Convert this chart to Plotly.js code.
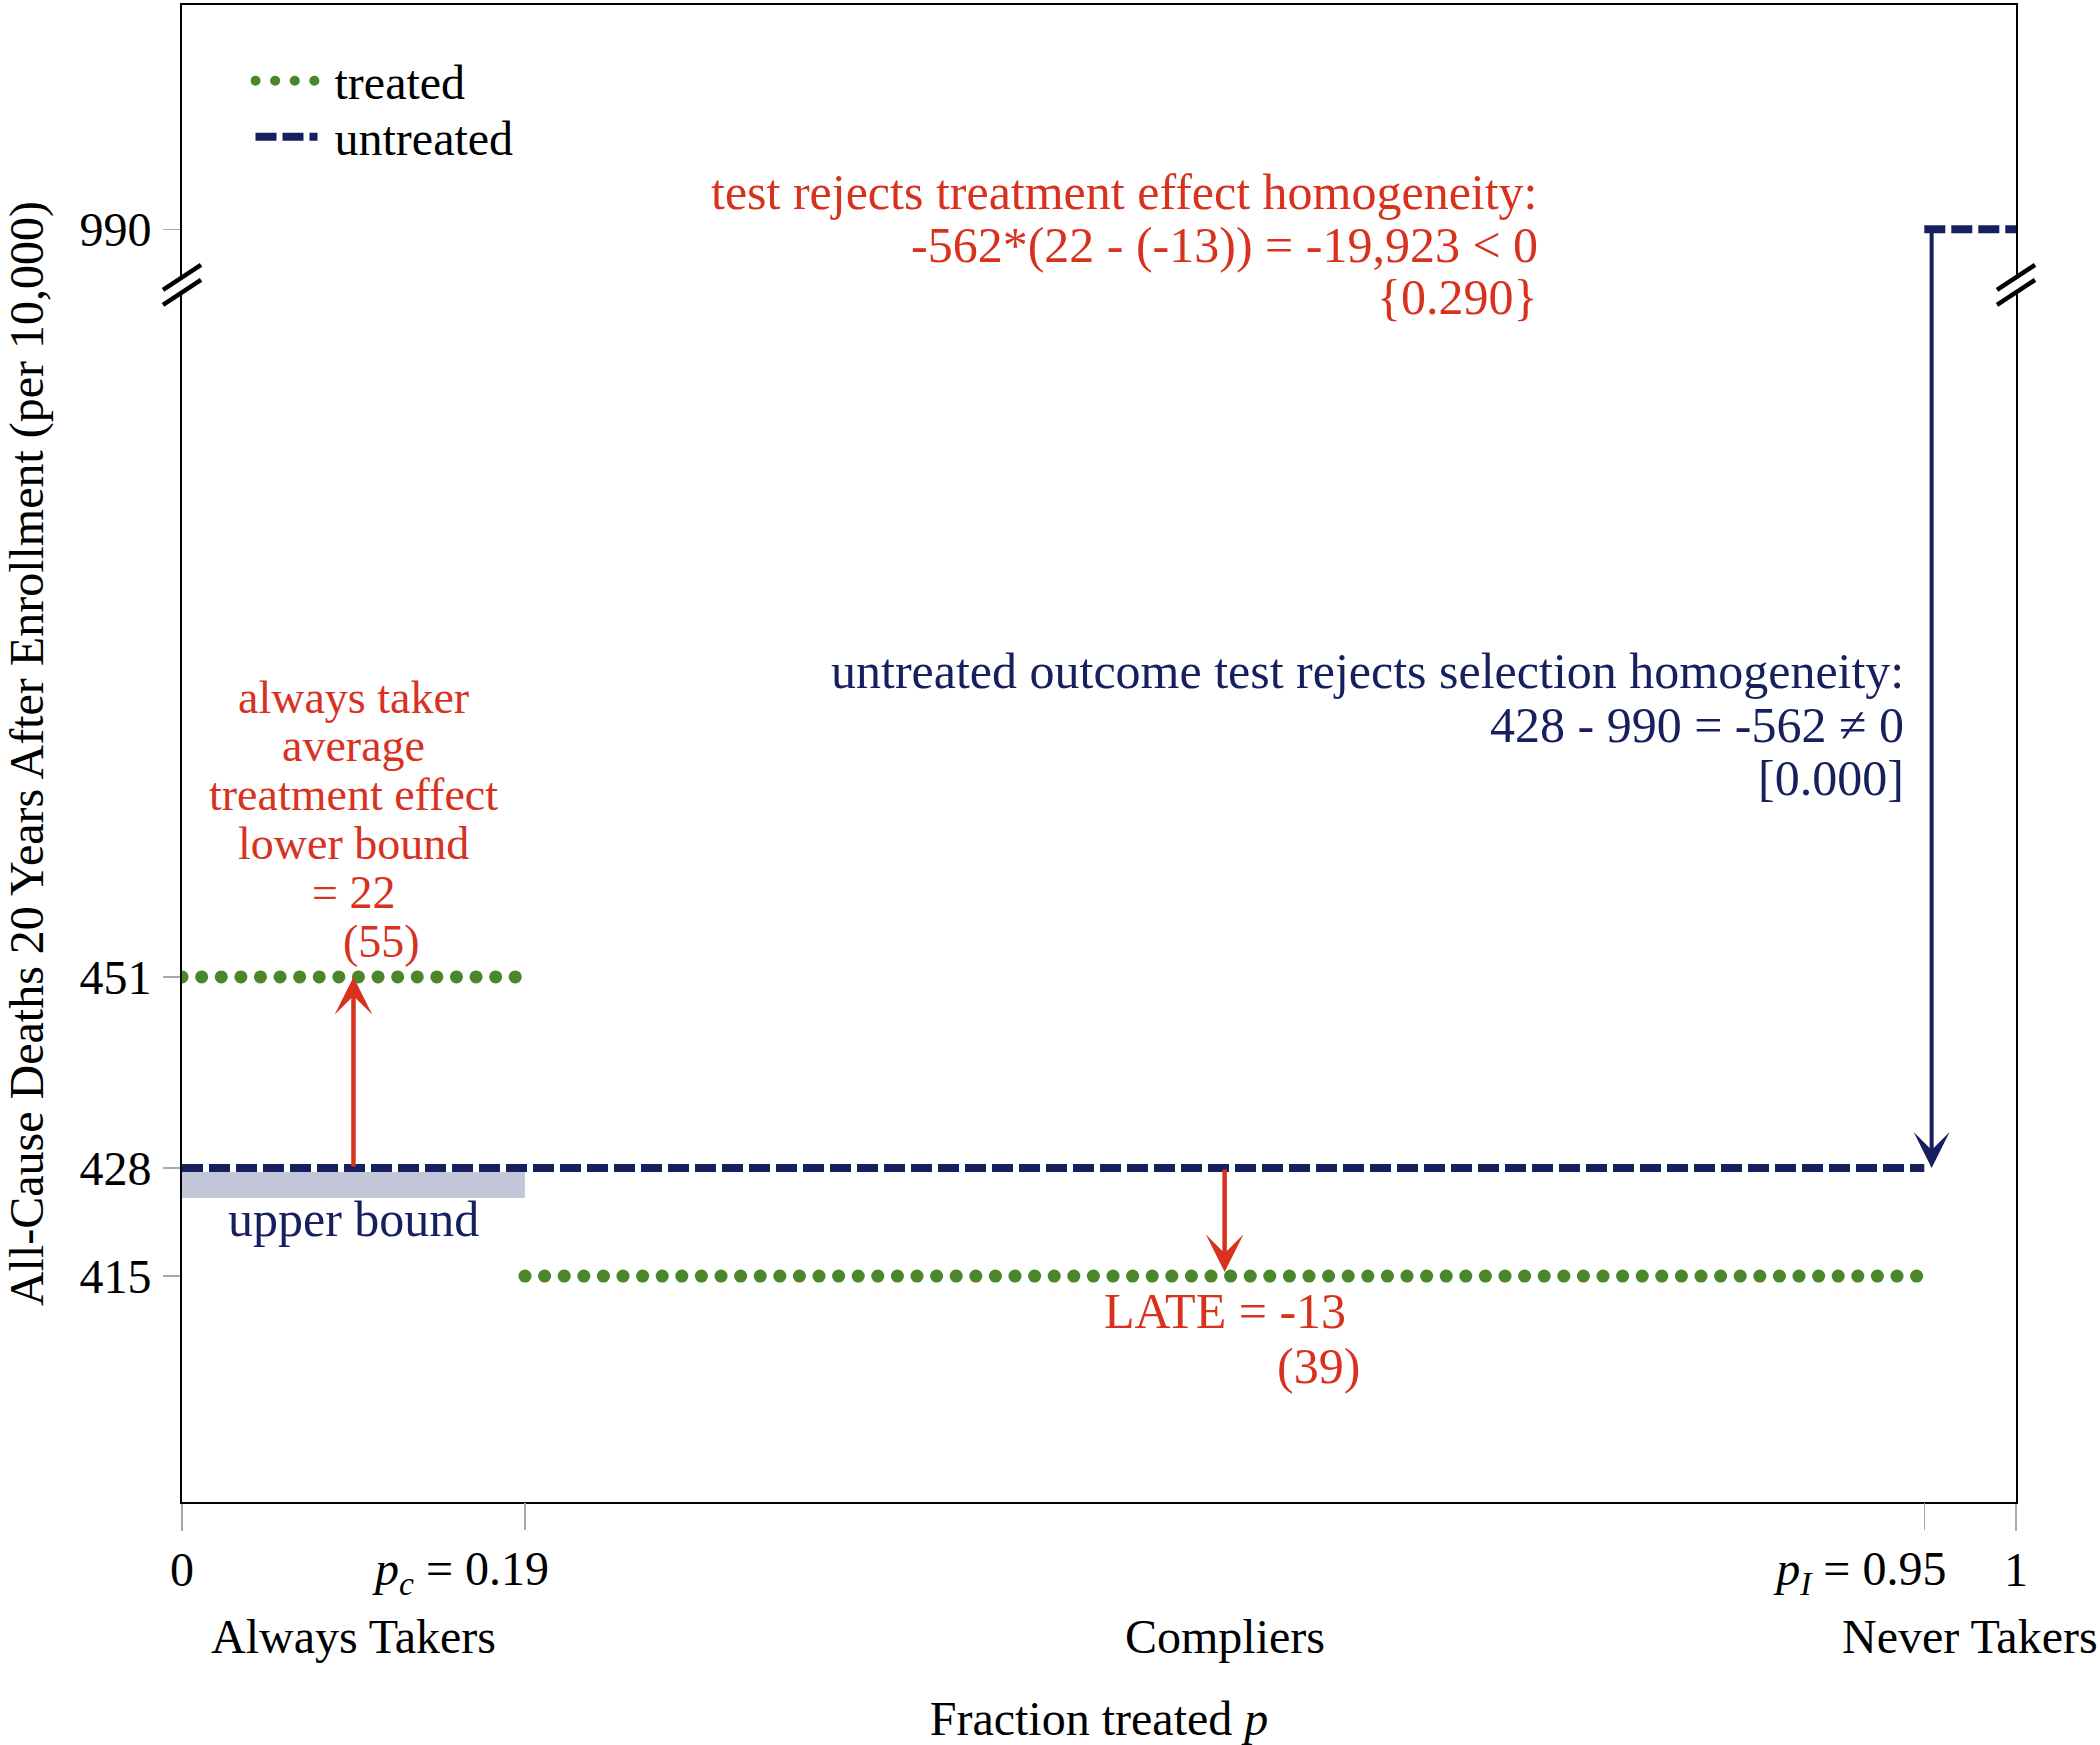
<!DOCTYPE html>
<html><head><meta charset="utf-8">
<script src="https://cdn.plot.ly/plotly-3.0.1.min.js"></script>
<style>html,body{margin:0;padding:0;background:#fff}</style>
</head><body><div id="chart" style="width:2100px;height:1745px"></div>
<script>
// ---------------- data ----------------
const pC = 0.187;            // fraction always takers (labelled 0.19)
const pI = 0.95;             // p_I
const groupNames = ['Always Takers', 'Compliers', 'Never Takers'];
const groupEdges = [0, pC, pI, 1];
const treatedX = [0, pC, null, pC, pI];
const treatedY = [451, 451, null, 415, 415];
const untreatedX = [0, pI, null, pI, 1];
const untreatedY = [428, 428, null, 990, 990];
const yTickValues = [415, 428, 451, 990];
const xTickValues = [0, pC, pI, 1];
const xTickLabels = ['0', '<i>p</i><sub><i>c</i></sub> = 0.19', '<i>p</i><sub><i>I</i></sub> = 0.95', '1'];
const lowerBound = 22, lowerBoundSE = 55;
const lateValue = -13, lateSE = 39;
const selDiff = -562, selP = '0.000';
const teStat = '-19,923', teP = '0.290';
const navyArrowX = 0.954;

// broken y axis: values above BREAK_AT are shifted down by BREAK_SHIFT
const BREAK_AT = 600, BREAK_SHIFT = 449, BREAK_MARK = 534.3;
const brk = v => (v === null ? null : (v > BREAK_AT ? v - BREAK_SHIFT : v));

// ---------------- style ----------------
const FONT = 'Liberation Serif', FS = 48, FA = 50, FL = 46;
const RED = '#d8321f', NAVY = '#17205e', GREEN = '#4b872a', BAND = '#c3c6d8', TICKGRAY = '#a8a8a8';
const W = 2100, H = 1745, ML = 182, MR = 84, MT = 5, MB = 243;
const PW = W - ML - MR, PH = H - MT - MB;
const fx = px => (px - ML) / PW;
const fy = py => (H - MB - py) / PH;
const mid = (a, b) => (a + b) / 2;
const mAT = mid(groupEdges[0], groupEdges[1]);
const mC = mid(groupEdges[1], groupEdges[2]);
const mNT = mid(groupEdges[2], groupEdges[3]);

const traces = [
  {x: treatedX, y: treatedY.map(brk), name: '\u00a0treated', mode: 'lines', connectgaps: false, legend: 'legend',
   line: {color: GREEN, width: 13, dash: '0.1px,19.5px'}, hoverinfo: 'skip'},
  {x: untreatedX, y: untreatedY.map(brk), name: '\u00a0untreated', mode: 'lines', connectgaps: false, legend: 'legend2',
   line: {color: NAVY, width: 8, dash: '21px,6px'}, hoverinfo: 'skip'},
  // invisible carrier for the second x axis (p_c, p_I ticks)
  {x: [pC, pI], y: [treatedY[3], treatedY[3]].map(brk), xaxis: 'x2', mode: 'lines', line: {width: 0},
   showlegend: false, hoverinfo: 'skip'}
];

function txt(text, color, size, o) {
  return Object.assign({text: text, showarrow: false, font: {family: FONT, size: size, color: color}}, o);
}
const ann = [];
// top red block
[['test rejects treatment effect homogeneity:', 191.5],
 [`${selDiff}*(${lowerBound} - (${lateValue})) = ${teStat} &lt; 0`, 245],
 [`{${teP}}`, 297]].forEach(([t, y]) =>
  ann.push(txt(t, RED, FA, {xref: 'paper', yref: 'paper', x: fx(1540), y: fy(y), xanchor: 'right', yanchor: 'middle'})));
// navy block
[['untreated outcome test rejects selection homogeneity:', 671],
 [`${untreatedY[0]} - ${untreatedY[3]} = ${selDiff} \u2260 0`, 724.5],
 [`[${selP}]`, 778]].forEach(([t, y]) =>
  ann.push(txt(t, NAVY, FA, {xref: 'paper', yref: 'paper', x: fx(1906), y: fy(y), xanchor: 'right', yanchor: 'middle'})));
// left red block
[['always taker', 697, 0], ['average', 745.9, 0], ['treatment effect', 794.8, 0],
 ['lower bound', 843.7, 0], [`= ${lowerBound}`, 892.6, 0], [`(${lowerBoundSE})`, 941.5, 28]].forEach(([t, y, s]) =>
  ann.push(txt(t, RED, FL, {xref: 'x', yref: 'paper', x: mAT, xshift: s, y: fy(y), xanchor: 'center', yanchor: 'middle'})));
ann.push(txt('upper bound', NAVY, FA, {xref: 'x', yref: 'paper', x: mAT, y: fy(1218.8), xanchor: 'center', yanchor: 'middle'}));
ann.push(txt(`LATE = ${lateValue}`, RED, FA, {xref: 'x', yref: 'paper', x: mC, y: fy(1311), xanchor: 'center', yanchor: 'middle'}));
ann.push(txt(`(${lateSE})`, RED, FA, {xref: 'x', yref: 'paper', x: mC, xshift: 94, y: fy(1366), xanchor: 'center', yanchor: 'middle'}));
// group labels
[[groupNames[0], mAT], [groupNames[1], mC], [groupNames[2], mNT]].forEach(([t, x]) =>
  ann.push(txt(t, 'black', FS, {xref: 'x', yref: 'paper', x: x, y: fy(1636.6), xanchor: 'center', yanchor: 'middle'})));
// arrows (tip at y = yTip, tail at y = yTail)
function arrow(x, yTip, yTail, color, width, size, standoff) {
  return {xref: 'x', yref: 'y', axref: 'x', ayref: 'y', x: x, y: brk(yTip), ax: x, ay: brk(yTail),
          text: '', showarrow: true, arrowhead: 3, arrowsize: size, arrowwidth: width, arrowcolor: color, standoff: standoff || 0};
}
ann.push(arrow(mAT, treatedY[0], untreatedY[0], RED, 4.5, 1.4, 0));
ann.push(arrow(mC, treatedY[3], untreatedY[0], RED, 4.5, 1.4, 4));
ann.push(arrow(navyArrowX, untreatedY[0], untreatedY[3], NAVY, 4, 1.5, 0));

// shapes: upper-bound band and axis break marks
const shapes = [
  {type: 'rect', xref: 'x', x0: groupEdges[0], x1: groupEdges[1], yref: 'y', ysizemode: 'pixel', yanchor: untreatedY[0],
   y0: -4, y1: -30, fillcolor: BAND, line: {width: 0}, layer: 'below'}
];
function breakMarks(xp) {
  const b = {xref: 'paper', yref: 'y', xsizemode: 'pixel', ysizemode: 'pixel', xanchor: xp, yanchor: BREAK_MARK, layer: 'above'};
  return [
    Object.assign({type: 'rect', x0: -4, x1: 4, y0: -6, y1: 6, fillcolor: 'white', line: {width: 0}}, b),
    Object.assign({type: 'line', x0: -19, x1: 19, y0: -5, y1: 20, line: {color: 'black', width: 4.5}}, b),
    Object.assign({type: 'line', x0: -19, x1: 19, y0: -20, y1: 5, line: {color: 'black', width: 4.5}}, b)
  ];
}
shapes.push(...breakMarks(0), ...breakMarks(1));

const legendBase = {xanchor: 'left', yanchor: 'top', bgcolor: 'rgba(0,0,0,0)', itemwidth: 62,
                    font: {family: FONT, size: FS, color: 'black'}};
const tickStyle = {ticks: 'outside', ticklen: 27, tickwidth: 1.5, tickcolor: TICKGRAY, ticklabelstandoff: -3,
                   showgrid: false, zeroline: false, tickangle: 0, automargin: false};
const layout = {
  width: W, height: H, margin: {l: ML, r: MR, t: MT, b: MB},
  paper_bgcolor: 'white', plot_bgcolor: 'white',
  font: {family: FONT, size: FS, color: 'black'},
  showlegend: true,
  legend: Object.assign({x: fx(250.5), y: fy(43)}, legendBase),
  legend2: Object.assign({x: fx(250.5), y: fy(99)}, legendBase),
  xaxis: Object.assign({range: [0, 1], tickvals: [xTickValues[0], xTickValues[3]], ticktext: [xTickLabels[0], xTickLabels[3]],
          showline: true, linecolor: 'black', linewidth: 2, mirror: true,
          title: {text: 'Fraction treated <i>p</i>', standoff: 109, font: {family: FONT, size: FS}}}, tickStyle),
  xaxis2: Object.assign({range: [0, 1], overlaying: 'x', anchor: 'y', side: 'bottom',
          tickvals: [xTickValues[1], xTickValues[2]], ticktext: [xTickLabels[1], xTickLabels[2]],
          ticklabelshift: -63, showline: false}, tickStyle),
  yaxis: {range: [387.8, 568.0], tickvals: yTickValues.map(brk), ticktext: yTickValues.map(String),
          ticks: 'outside', ticklen: 17, tickwidth: 1.5, tickcolor: TICKGRAY, ticklabelstandoff: 2,
          showline: true, linecolor: 'black', linewidth: 2, mirror: true, showgrid: false, zeroline: false,
          title: {text: 'All-Cause Deaths 20 Years After Enrollment (per 10,000)', standoff: 61, font: {family: FONT, size: FS}},
          automargin: false},
  annotations: ann, shapes: shapes
};

Plotly.newPlot('chart', traces, layout, {staticPlot: true}).then(gd => {
  // round caps turn the zero-length dashes of the treated lines into dots
  gd.querySelectorAll('path.js-line').forEach(p => {
    const s = ((p.getAttribute('style') || '') + ' ' + (p.getAttribute('stroke') || '')).toLowerCase();
    if (s.indexOf('75, 135, 42') >= 0 || s.indexOf('4b872a') >= 0) p.style.strokeLinecap = 'round';
  });
});
</script></body></html>
